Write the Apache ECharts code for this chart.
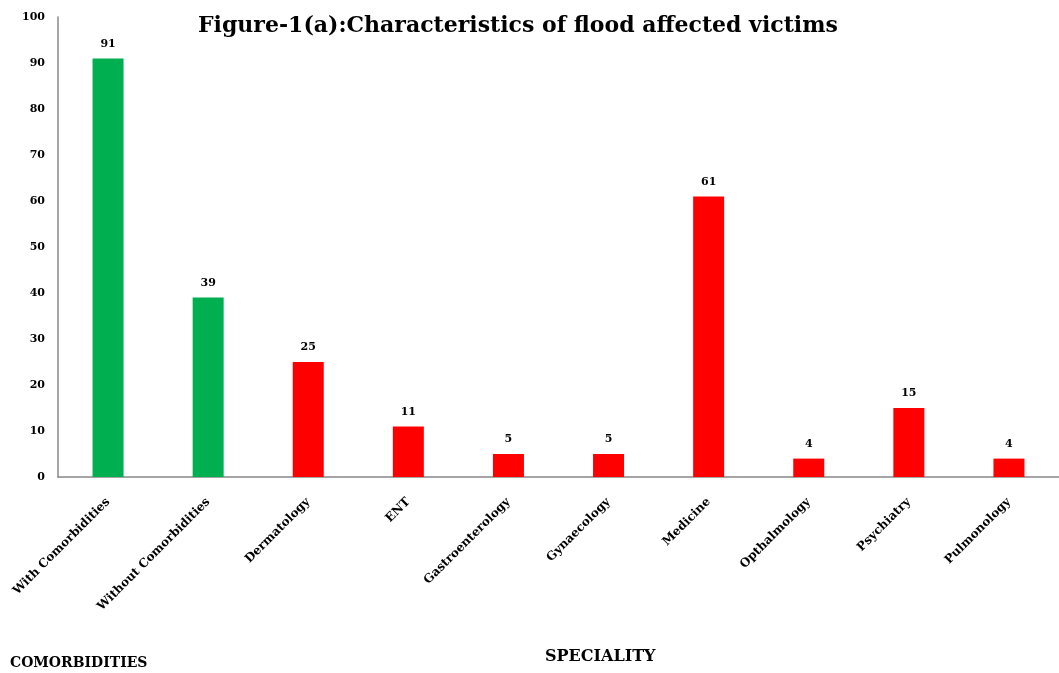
<!DOCTYPE html>
<html><head><meta charset="utf-8">
<script src="https://cdn.jsdelivr.net/npm/echarts@6/dist/echarts.min.js"></script>
<style>html,body{margin:0;padding:0;background:#fff}#c{width:1059px;height:673px}</style>
</head><body><div id="c"></div>
<script>
var categories = ['With Comorbidities','Without Comorbidities','Dermatology','ENT','Gastroenterology','Gynaecology','Medicine','Opthalmology','Psychiatry','Pulmonology'];
var values = [91,39,25,11,5,5,61,4,15,4];
var groups = ['C','C','S','S','S','S','S','S','S','S'];
var yTicks = [0,10,20,30,40,50,60,70,80,90,100];
var titleText = 'Figure-1(a):Characteristics of flood affected victims';
var colorMap = {C:'#00B050', S:'#FF0000'};
var font = '"DejaVu Serif",serif';
var chart = echarts.init(document.getElementById('c'));
chart.setOption({
  animation:false,
  backgroundColor:'#fff',
  title:{text:titleText,left:193,top:10,textStyle:{fontFamily:font,fontWeight:'bold',fontSize:22,color:'#000'}},
  grid:{left:58,right:-6,top:17,bottom:196,containLabel:false},
  xAxis:{type:'category',data:categories,
    axisLine:{lineStyle:{color:'#888',width:1.5}},axisTick:{show:false},
    axisLabel:{rotate:45,interval:0,fontFamily:font,fontWeight:'bold',fontSize:12,color:'#000',margin:23}},
  yAxis:{type:'value',min:0,max:100,interval:10,
    axisLine:{show:true,lineStyle:{color:'#888',width:1.5}},axisTick:{show:false},splitLine:{show:false},
    axisLabel:{fontFamily:font,fontWeight:'bold',fontSize:11,color:'#000',margin:13,
      formatter:function(v){return yTicks.indexOf(v)>=0?String(v):'';}}},
  series:[{type:'bar',barWidth:31,
    data:values.map(function(v,i){return {value:v,itemStyle:{color:colorMap[groups[i]]}};}),
    label:{show:true,position:'top',distance:9,fontFamily:font,fontWeight:'bold',fontSize:11,color:'#000'}}],
  graphic:[
    {type:'text',left:10,top:656,style:{text:'COMORBIDITIES',fontFamily:font,fontWeight:'bold',fontSize:14,fill:'#000'}},
    {type:'text',left:545,top:649,style:{text:'SPECIALITY',fontFamily:font,fontWeight:'bold',fontSize:16,fill:'#000'}}
  ]
});
</script></body></html>
